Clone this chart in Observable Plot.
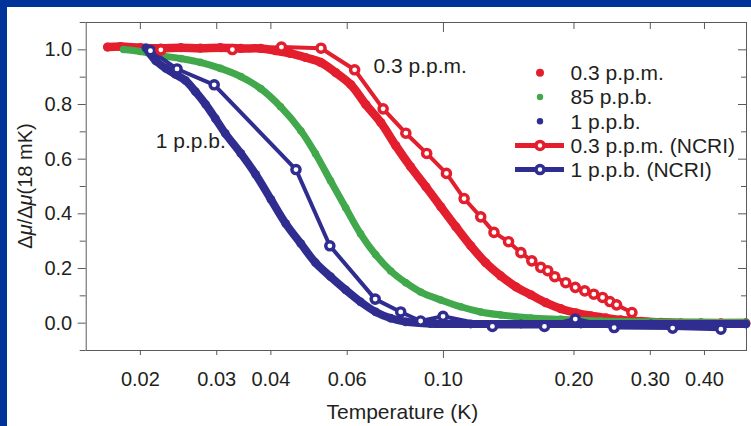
<!DOCTYPE html>
<html><head><meta charset="utf-8">
<script src="https://cdn.jsdelivr.net/npm/d3@7"></script>
<script src="https://cdn.jsdelivr.net/npm/@observablehq/plot@0.6"></script>
<style>
html,body{margin:0;padding:0;background:#003399;width:751px;height:426px;overflow:hidden;}
#panel{position:absolute;left:7px;top:7px;width:744px;height:419px;background:#fff;}
svg{font-family:"Liberation Sans",Arial,Helvetica,sans-serif;}
</style></head><body><div id="panel"></div>
<script>
// ---------- data ----------
const redDotsT = [0.0168,0.0180,0.0200,0.0223,0.0248,0.0275,0.0306,0.0341,0.0379,0.0410,0.0444,0.0481,0.0521,0.0564,0.0611,0.0662,0.0717,0.0776,0.0840,0.0911,0.0986,0.1068,0.1156,0.1252,0.1356,0.1469,0.1590,0.1722,0.1865,0.2020,0.2188,0.2369,0.2566,0.2853,0.3173,0.3529,0.3925,0.4365,0.4985];
const redDotsV = [1.010,1.012,1.008,1.006,1.008,1.006,1.008,1.005,1.005,0.997,0.987,0.972,0.954,0.917,0.873,0.800,0.734,0.650,0.572,0.499,0.426,0.353,0.283,0.221,0.173,0.133,0.104,0.075,0.053,0.038,0.027,0.019,0.012,0.007,0.003,0.001,0.001,0.001,0.001];

const greenDotsT = [0.0183,0.0200,0.0223,0.0248,0.0275,0.0306,0.0341,0.0379,0.0421,0.0469,0.0507,0.0549,0.0595,0.0644,0.0698,0.0756,0.0819,0.0886,0.0986,0.1096,0.1219,0.1356,0.1590,0.1865,0.2307,0.3009,0.3925,0.4985];
const greenDotsV = [1.001,0.994,0.979,0.968,0.954,0.932,0.902,0.858,0.792,0.704,0.620,0.521,0.422,0.327,0.250,0.191,0.148,0.114,0.085,0.060,0.041,0.030,0.019,0.014,0.008,0.005,0.003,0.003];

const blueDotsT = [0.0206,0.0217,0.0229,0.0241,0.0254,0.0268,0.0283,0.0298,0.0314,0.0341,0.0369,0.0400,0.0433,0.0469,0.0507,0.0549,0.0595,0.0644,0.0698,0.0756,0.0819,0.0935,0.1156,0.1509,0.2074,0.3009,0.4985];
const blueDotsV = [1.007,0.960,0.932,0.910,0.888,0.847,0.800,0.748,0.694,0.621,0.544,0.453,0.364,0.291,0.221,0.170,0.122,0.078,0.041,0.018,0.005,-0.002,-0.003,-0.003,-0.003,-0.003,-0.003];

const redNcriT = [0.0223,0.0326,0.0423,0.0522,0.0624,0.0726,0.0819,0.0915,0.1016,0.1116,0.1219,0.1308,0.1413,0.1509,0.1599,0.1677,0.1740,0.1806,0.1915,0.2014,0.2118,0.2222,0.2328,0.2420,0.2508,0.2721];
const redNcriV = [1.000,1.001,1.010,1.006,0.927,0.784,0.695,0.621,0.548,0.456,0.389,0.332,0.298,0.258,0.228,0.204,0.192,0.170,0.148,0.131,0.118,0.106,0.094,0.079,0.067,0.039];

const blueNcriT = [0.0211,0.0243,0.0296,0.0457,0.0547,0.0696,0.0797,0.0886,0.0998,0.1297,0.1710,0.2014,0.2476,0.3378,0.4365];
const blueNcriV = [0.997,0.930,0.872,0.562,0.283,0.088,0.041,0.008,0.025,-0.012,-0.012,0.015,-0.016,-0.018,-0.022];

const xTicks = [0.02,0.03,0.04,0.06,0.10,0.20,0.30,0.40];
const xTickLabels = ["0.02","0.03","0.04","0.06","0.10","0.20","0.30","0.40"];
const xDecadeTicks = [0.10];
const yMajorTicks = [0.0,0.2,0.4,0.6,0.8,1.0];
const yTickLabels = ["0.0","0.2","0.4","0.6","0.8","1.0"];
const yMinorTicks = [-0.1,0.1,0.3,0.5,0.7,0.9,1.1];
const xDomain = [0.015,0.5];
const yDomain = [-0.1,1.1];

const annotLabels = ["0.3 p.p.m.","1 p.p.b."];
const annotT = [0.0690,0.0217];
const annotV = [0.939,0.664];

const xAxisLabel = "Temperature (K)";
const yAxisLabelParts = [["Δ",false],["μ",true],["/Δ",false],["μ",true],["(18 mK)",false]];
const legendLabels = ["0.3 p.p.m.","85 p.p.b.","1 p.p.b.","0.3 p.p.m. (NCRI)","1 p.p.b. (NCRI)"];

// ---------- styles ----------
const RED="#e31e2d", GREEN="#41a84b", BLUE="#2f2d8f", TEXT="#231f20", AXIS="#5a5a5a";
const FONT = '"Liberation Sans",Arial,Helvetica,sans-serif';

const rows = (T,V)=>T.map((t,i)=>({T:t,V:V[i]}));
const redDots=rows(redDotsT,redDotsV), greenDots=rows(greenDotsT,greenDotsV), blueDots=rows(blueDotsT,blueDotsV);
const redNcri=rows(redNcriT,redNcriV), blueNcri=rows(blueNcriT,blueNcriV);
const xLab=new Map(xTicks.map((d,i)=>[d,xTickLabels[i]]));
const yLab=new Map(yMajorTicks.map((d,i)=>[d,yTickLabels[i]]));
const xMinor = xTicks.filter(d=>!xDecadeTicks.includes(d));
const tickOnly = {fill:"none", stroke:AXIS, label:null};

const chart = Plot.plot({
  width:744, height:419,
  marginLeft:78.7, marginTop:15, marginRight:5, marginBottom:76,
  style:{fontFamily:FONT, background:"white", overflow:"visible"},
  x:{type:"log", domain:xDomain},
  y:{domain:yDomain},
  marks:[
    Plot.frame({stroke:AXIS}),
    Plot.axisY({anchor:"left", ticks:yMajorTicks, tickSize:0, tickPadding:14, tickFormat:d=>yLab.get(d), fontSize:20, fill:TEXT, label:null}),
    Plot.axisY({anchor:"left", ticks:yMajorTicks, tickSize:8, ...tickOnly}),
    Plot.axisY({anchor:"left", ticks:yMinorTicks, tickSize:6, ...tickOnly}),
    Plot.axisY({anchor:"right", ticks:yMajorTicks, tickSize:-9, ...tickOnly}),
    Plot.axisY({anchor:"right", ticks:yMinorTicks, tickSize:-6, ...tickOnly}),
    Plot.axisX({anchor:"bottom", ticks:xTicks, tickSize:0, tickPadding:21.5, tickFormat:d=>xLab.get(d), fontSize:20, fill:TEXT, label:null}),
    Plot.axisX({anchor:"bottom", ticks:xMinor, tickSize:5, ...tickOnly}),
    Plot.axisX({anchor:"bottom", ticks:xDecadeTicks, tickSize:8, ...tickOnly}),
    Plot.axisX({anchor:"top", ticks:xMinor, tickSize:-6, ...tickOnly}),
    Plot.axisX({anchor:"top", ticks:xDecadeTicks, tickSize:-9, ...tickOnly}),
    Plot.text([xAxisLabel], {frameAnchor:"bottom", dx:-14, dy:61.7, fontSize:21, fill:TEXT, lineAnchor:"middle"}),
    // data
    Plot.line(redDots, {x:"T", y:"V", stroke:RED, strokeWidth:8.5, curve:"catmull-rom", strokeLinecap:"round", strokeLinejoin:"round"}),
    Plot.dot(redDots, {x:"T", y:"V", r:4.6, fill:RED}),
    Plot.line(greenDots, {x:"T", y:"V", stroke:GREEN, strokeWidth:7, curve:"catmull-rom", strokeLinecap:"round", strokeLinejoin:"round"}),
    Plot.dot(greenDots, {x:"T", y:"V", r:3.8, fill:GREEN}),
    Plot.line(blueDots, {x:"T", y:"V", stroke:BLUE, strokeWidth:8, curve:"catmull-rom", strokeLinecap:"round", strokeLinejoin:"round"}),
    Plot.dot(blueDots, {x:"T", y:"V", r:4.4, fill:BLUE}),
    Plot.line(blueNcri, {x:"T", y:"V", stroke:BLUE, strokeWidth:4, strokeLinejoin:"round"}),
    Plot.dot(blueNcri, {x:"T", y:"V", r:4.1, fill:"white", stroke:BLUE, strokeWidth:3.4}),
    Plot.line(redNcri, {x:"T", y:"V", stroke:RED, strokeWidth:4, strokeLinejoin:"round"}),
    Plot.dot(redNcri, {x:"T", y:"V", r:4.1, fill:"white", stroke:RED, strokeWidth:3.4}),
    Plot.text(annotLabels, {x:annotT, y:annotV, text:d=>d, textAnchor:"start", fontSize:21, fill:TEXT})
  ]
});
document.getElementById("panel").appendChild(chart);

// ---------- overlay: y-axis title and legend (page coordinates) ----------
const over = d3.select("body").append("svg")
  .attr("width",751).attr("height",426)
  .style("position","absolute").style("left","0px").style("top","0px")
  .style("pointer-events","none");

const yt = over.append("text")
  .attr("transform","translate(32,186) rotate(-90)")
  .attr("text-anchor","middle").attr("font-size",20).attr("fill",TEXT);
yAxisLabelParts.forEach(([s,it])=>{
  yt.append("tspan").attr("font-style", it ? "italic" : "normal").text(s);
});

const legendKinds = [
  {color:RED, kind:"dot", r:4},
  {color:GREEN, kind:"dot", r:3.2},
  {color:BLUE, kind:"dot", r:3.2},
  {color:RED, kind:"line"},
  {color:BLUE, kind:"line"}
];
const y0 = 72.8, step = 24.2, mx = 540, tx = 570.5;
legendLabels.forEach((lab,i)=>{
  const k = legendKinds[i], y = y0 + i*step;
  const g = over.append("g");
  if (k.kind==="dot") {
    g.append("circle").attr("cx",mx).attr("cy",y).attr("r",k.r).attr("fill",k.color);
  } else {
    g.append("line").attr("x1",515).attr("x2",564).attr("y1",y).attr("y2",y)
      .attr("stroke",k.color).attr("stroke-width",5);
    g.append("circle").attr("cx",mx).attr("cy",y).attr("r",4)
      .attr("fill","white").attr("stroke",k.color).attr("stroke-width",3.5);
  }
  g.append("text").attr("x",tx).attr("y",y).attr("dy","0.35em")
    .attr("font-size",21).attr("fill",TEXT).text(lab);
});
</script>
</body></html>
